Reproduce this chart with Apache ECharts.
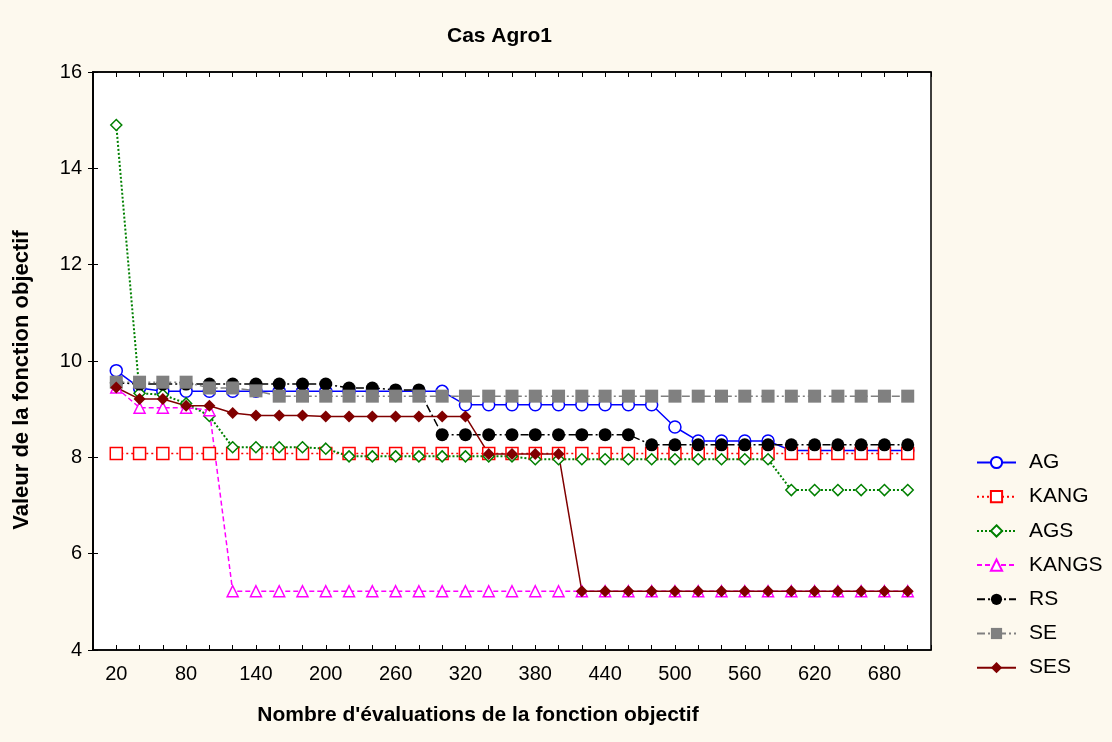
<!DOCTYPE html>
<html>
<head>
<meta charset="utf-8">
<title>Cas Agro1</title>
<script src="https://cdn.jsdelivr.net/npm/echarts@6/dist/echarts.min.js"></script>
<style>
  html, body { margin: 0; padding: 0; background: #fdf9ee; }
  #chart { width: 1112px; height: 742px; }
</style>
</head>
<body>
<div id="chart"></div>
<script>
// nombre d'évaluations (axe x)
var evals = [20, 40, 60, 80, 100, 120, 140, 160, 180, 200, 220, 240, 260, 280, 300, 320, 340, 360,
  380, 400, 420, 440, 460, 480, 500, 520, 540, 560, 580, 600, 620, 640, 660, 680, 700];
var xTickLabels = [20, 80, 140, 200, 260, 320, 380, 440, 500, 560, 620, 680];

var AG = [9.8, 9.44, 9.37, 9.37, 9.37, 9.37, 9.37, 9.37, 9.37, 9.37, 9.37, 9.37, 9.37, 9.37, 9.37,
  9.09, 9.09, 9.09, 9.09, 9.09, 9.09, 9.09, 9.09, 9.09, 8.63, 8.34, 8.34, 8.34, 8.34,
  8.14, 8.14, 8.14, 8.14, 8.14, 8.14];
var KANG = [8.08, 8.08, 8.08, 8.08, 8.08, 8.08, 8.08, 8.08, 8.08, 8.08, 8.08, 8.08, 8.08, 8.08, 8.08,
  8.08, 8.08, 8.08, 8.08, 8.08, 8.08, 8.08, 8.08, 8.08, 8.08, 8.08, 8.08, 8.08, 8.08,
  8.08, 8.08, 8.08, 8.08, 8.08, 8.08];
var AGS = [14.9, 9.33, 9.3, 9.12, 8.86, 8.21, 8.21, 8.21, 8.21, 8.18, 8.02, 8.02, 8.02, 8.02, 8.02,
  8.02, 8.02, 8.02, 7.96, 7.96, 7.96, 7.96, 7.96, 7.96, 7.96, 7.96, 7.96, 7.96, 7.96,
  7.32, 7.32, 7.32, 7.32, 7.32, 7.32];
var KANGS = [9.45, 9.03, 9.03, 9.03, 8.98, 5.22, 5.22, 5.22, 5.22, 5.22, 5.22, 5.22, 5.22, 5.22, 5.22,
  5.22, 5.22, 5.22, 5.22, 5.22, 5.22, 5.22, 5.22, 5.22, 5.22, 5.22, 5.22, 5.22, 5.22,
  5.22, 5.22, 5.22, 5.22, 5.22, 5.22];
var RS = [9.55, 9.52, 9.52, 9.52, 9.52, 9.52, 9.52, 9.52, 9.52, 9.52, 9.44, 9.44, 9.4, 9.4, 8.47,
  8.47, 8.47, 8.47, 8.47, 8.47, 8.47, 8.47, 8.47, 8.26, 8.26, 8.26, 8.26, 8.26, 8.26,
  8.26, 8.26, 8.26, 8.26, 8.26, 8.26];
var SE = [9.56, 9.56, 9.56, 9.56, 9.44, 9.44, 9.38, 9.27, 9.27, 9.27, 9.27, 9.27, 9.27, 9.27, 9.27,
  9.27, 9.27, 9.27, 9.27, 9.27, 9.27, 9.27, 9.27, 9.27, 9.27, 9.27, 9.27, 9.27, 9.27,
  9.27, 9.27, 9.27, 9.27, 9.27, 9.27];
var SES = [9.45, 9.21, 9.21, 9.07, 9.07, 8.92, 8.87, 8.87, 8.87, 8.85, 8.85, 8.85, 8.85, 8.85, 8.85,
  8.85, 8.07, 8.07, 8.07, 8.07, 5.22, 5.22, 5.22, 5.22, 5.22, 5.22, 5.22, 5.22, 5.22,
  5.22, 5.22, 5.22, 5.22, 5.22, 5.22];

var FONT = '"Liberation Sans", Arial, sans-serif';

function pairs(vals) {
  var out = [];
  for (var i = 0; i < evals.length; i++) out.push([evals[i], vals[i]]);
  return out;
}

// nom, valeurs, couleur, symbole, taille, plein ou vide, pointillés
function mkSeries(name, vals, color, symbol, size, filled, dash, width) {
  return {
    name: name,
    type: 'line',
    data: pairs(vals),
    symbol: symbol,
    symbolSize: size,
    showAllSymbol: true,
    animation: false,
    lineStyle: { color: color, width: width || 1.5, type: dash },
    itemStyle: filled ? { color: color } : { color: '#fff', borderColor: color, borderWidth: 1.5 },
    emphasis: { disabled: true }
  };
}

var myChart = echarts.init(document.getElementById('chart'));
myChart.setOption({
  backgroundColor: '#fdf9ee',
  title: {
    text: 'Cas Agro1',
    left: 442,
    top: 21,
    textStyle: { fontFamily: FONT, fontSize: 21, fontWeight: 'bold', color: '#000' }
  },
  legend: {
    orient: 'vertical',
    left: 971,
    top: 447,
    itemWidth: 39,
    itemHeight: 14,
    itemGap: 13.2,
    textStyle: { fontFamily: FONT, fontSize: 21, color: '#000', lineHeight: 20, padding: [0, 0, 0, 8] },
    data: ['AG', 'KANG', 'AGS', 'KANGS', 'RS', 'SE', 'SES']
  },
  grid: {
    left: 93,
    top: 72,
    right: 181,
    bottom: 92,
    show: true,
    backgroundColor: '#fff',
    borderColor: '#000',
    borderWidth: 1.5
  },
  xAxis: [{
    type: 'value',
    min: 0,
    max: 720,
    interval: 20,
    name: "Nombre d'évaluations de la fonction objectif",
    nameLocation: 'middle',
    nameGap: 55,
    nameTextStyle: { fontFamily: FONT, fontSize: 21, fontWeight: 'bold', color: '#000', padding: [0, 68, 0, 0] },
    axisLine: { lineStyle: { color: '#000', width: 1.5 } },
    axisTick: { inside: true, length: 5, lineStyle: { color: '#000' } },
    axisLabel: {
      margin: 14,
      fontFamily: FONT, fontSize: 20, color: '#000',
      formatter: function (v) { return xTickLabels.indexOf(v) >= 0 ? String(v) : ''; }
    },
    splitLine: { show: false }
  }, {
    type: 'value',
    position: 'top',
    min: 0,
    max: 720,
    interval: 20,
    axisLine: { lineStyle: { color: '#000', width: 1.5 } },
    axisTick: { inside: true, length: 5, lineStyle: { color: '#000' } },
    axisLabel: { show: false },
    splitLine: { show: false }
  }],
  yAxis: [{
    type: 'value',
    min: 4,
    max: 16,
    interval: 2,
    name: 'Valeur de la fonction objectif',
    nameLocation: 'middle',
    nameGap: 60,
    nameTextStyle: { fontFamily: FONT, fontSize: 22, fontWeight: 'bold', color: '#000', padding: [0, 38, 0, 0] },
    axisLine: { show: true, lineStyle: { color: '#000', width: 1.5 } },
    axisTick: { show: true, inside: true, length: 5, lineStyle: { color: '#000' } },
    axisLabel: { margin: 11, fontFamily: FONT, fontSize: 20, color: '#000' },
    splitLine: { show: false }
  }, {
    type: 'value',
    position: 'right',
    min: 4,
    max: 16,
    interval: 2,
    axisLine: { show: true, lineStyle: { color: '#000', width: 1.5 } },
    axisTick: { show: true, inside: true, length: 5, lineStyle: { color: '#000' } },
    axisLabel: { show: false },
    splitLine: { show: false }
  }],
  series: [
    mkSeries('AG', AG, '#0000ff', 'circle', 12, false, 'solid'),
    mkSeries('KANG', KANG, '#ff0000', 'rect', 12, false, [2, 3]),
    mkSeries('AGS', AGS, '#008000', 'diamond', 11, false, [2, 2], 2),
    mkSeries('KANGS', KANGS, '#ff00ff', 'triangle', 11, false, [5, 3]),
    mkSeries('RS', RS, '#000000', 'circle', 13, true, [8, 3, 2, 3]),
    mkSeries('SE', SE, '#808080', 'rect', 13, true, [8, 3, 2, 3, 2, 3]),
    mkSeries('SES', SES, '#800000', 'diamond', 12, true, 'solid')
  ]
});
</script>
</body>
</html>
